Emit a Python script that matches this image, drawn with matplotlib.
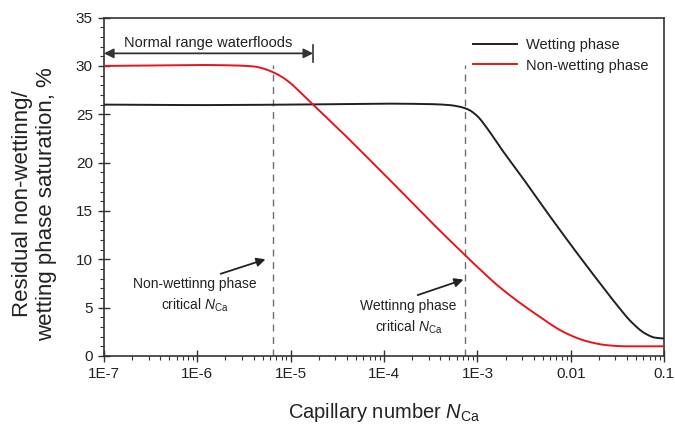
import numpy as np
import matplotlib
matplotlib.use("Agg")
import matplotlib.pyplot as plt
from matplotlib.ticker import LogLocator, NullFormatter, MultipleLocator

plt.rcParams['font.family'] = ['Liberation Sans', 'DejaVu Sans']
plt.rcParams['mathtext.fontset'] = 'custom'
plt.rcParams['mathtext.rm'] = 'Liberation Sans'
plt.rcParams['mathtext.it'] = 'Liberation Sans:italic'

# Data (log10 of capillary number, saturation %)
wet_logx = [-7, -6.5, -6, -5.5, -5, -4.5, -4, -3.5, -3.3, -3.2, -3.1, -3.0, -2.9,
            -2.75, -2.5, -2.25, -2.0, -1.75, -1.5, -1.35, -1.2, -1.1, -1.0]
wet_sat = [26.0, 25.98, 25.95, 25.97, 26.0, 26.05, 26.1, 26.05, 25.95, 25.8, 25.5, 24.8, 23.6,
           21.5, 18.2, 14.8, 11.5, 8.3, 5.2, 3.5, 2.3, 1.9, 1.8]
nw_logx = [-7, -6.5, -6, -5.6, -5.4, -5.3, -5.19, -5.1, -5.0, -4.9, -4.76, -4.5, -4.0,
           -3.5, -3.13, -3.0, -2.76, -2.4, -2.04, -1.82, -1.6, -1.4, -1.25, -1.0]
nw_sat = [30.0, 30.05, 30.1, 30.05, 29.95, 29.75, 29.35, 28.9, 28.2, 27.3, 26.0, 23.6, 18.8,
          13.9, 10.4, 9.2, 7.1, 4.5, 2.3, 1.5, 1.1, 1.0, 1.0, 1.0]

crit_nw = 6.4e-6
crit_w = 7.4e-4
normal_range_end = 1.74e-5
xticks = [1e-7, 1e-6, 1e-5, 1e-4, 1e-3, 1e-2, 1e-1]
xticklabels = ['1E-7', '1E-6', '1E-5', '1E-4', '1E-3', '0.01', '0.1']

fig = plt.figure(figsize=(6.75, 4.25), dpi=100)
ax = fig.add_axes([0.154, 0.1624, 0.83, 0.7962])

def smooth(lx, y, n=400):
    lx = np.asarray(lx, float); y = np.asarray(y, float)
    xs = np.linspace(lx[0], lx[-1], n)
    h = np.diff(lx); d = np.diff(y) / h
    m = np.zeros_like(y)
    m[0] = d[0]; m[-1] = d[-1]
    for i in range(1, len(y) - 1):
        if d[i-1] * d[i] <= 0:
            m[i] = 0
        else:
            w1 = 2*h[i] + h[i-1]; w2 = h[i] + 2*h[i-1]
            m[i] = (w1 + w2) / (w1/d[i-1] + w2/d[i])
    idx = np.clip(np.searchsorted(lx, xs) - 1, 0, len(lx) - 2)
    t = (xs - lx[idx]) / h[idx]
    h00 = 2*t**3 - 3*t**2 + 1; h10 = t**3 - 2*t**2 + t
    h01 = -2*t**3 + 3*t**2; h11 = t**3 - t**2
    ys = h00*y[idx] + h10*h[idx]*m[idx] + h01*y[idx+1] + h11*h[idx]*m[idx+1]
    return 10**xs, ys

wx, wy = smooth(wet_logx, wet_sat)
nx, ny = smooth(nw_logx, nw_sat)

ax.plot(wx, wy, color='#231f20', lw=1.4, label='Wetting phase', zorder=3)
ax.plot(nx, ny, color='#e8141a', lw=1.4, label='Non-wetting phase', zorder=3)

ax.vlines([crit_nw, crit_w], 0, 30.1, colors='#707070', linestyles=(0, (5, 4)), lw=1.0, zorder=2)

ax.set_xscale('log')
ax.set_xlim(1e-7, 1e-1)
ax.set_ylim(0, 35)
ax.set_xticks(xticks)
ax.set_xticklabels(xticklabels)
ax.xaxis.set_minor_locator(LogLocator(base=10, subs=np.arange(2, 10), numticks=20))
ax.xaxis.set_minor_formatter(NullFormatter())
ax.yaxis.set_major_locator(MultipleLocator(5))
ax.yaxis.set_minor_locator(MultipleLocator(1))

for s in ax.spines.values():
    s.set_color('#333333'); s.set_linewidth(1.2)
ax.tick_params(which='major', direction='inout', length=8, width=1.0, color='#333333',
               labelsize=11, labelcolor='#222222', pad=4)
ax.tick_params(which='minor', direction='out', length=3, width=0.8, color='#333333')

ax.set_xlabel(r'Capillary number $\mathit{N}_{\mathrm{Ca}}$', fontsize=14.5, color='#222222', labelpad=14)
ax.set_ylabel('Residual non-wettinng/\nwetting phase saturation, %', fontsize=16,
              color='#222222', linespacing=1.2)
ax.yaxis.set_label_coords(-0.084, 0.45)

# Normal range arrow
ax.annotate('', xy=(1e-7, 31.3), xytext=(normal_range_end, 31.3),
            arrowprops=dict(arrowstyle='<|-|>', color='#333333', lw=1.3,
                            mutation_scale=14, shrinkA=0, shrinkB=0))
ax.plot([normal_range_end, normal_range_end], [30.4, 32.2], color='#333333', lw=1.2)
ax.text(10**(-5.88), 31.65, 'Normal range waterfloods', ha='center', va='bottom',
        fontsize=10.5, color='#222222')

# Critical annotations
ax.annotate('', xy=(10**(-5.27), 10.0), xytext=(10**(-5.75), 8.5),
            arrowprops=dict(arrowstyle='-|>', color='#222222', lw=1.3, mutation_scale=13,
                            shrinkA=0, shrinkB=0))
ax.text(10**(-6.03), 8.15, 'Non-wettinng phase\ncritical $\\mathit{N}_{\\mathrm{Ca}}$',
        ha='center', va='top', fontsize=10, color='#222222', linespacing=1.4)
ax.annotate('', xy=(10**(-3.15), 7.9), xytext=(10**(-3.64), 6.3),
            arrowprops=dict(arrowstyle='-|>', color='#222222', lw=1.3, mutation_scale=13,
                            shrinkA=0, shrinkB=0))
ax.text(10**(-3.74), 5.85, 'Wettinng phase\ncritical $\\mathit{N}_{\\mathrm{Ca}}$',
        ha='center', va='top', fontsize=10, color='#222222', linespacing=1.4)

leg = ax.legend(loc='upper right', bbox_to_anchor=(0.99, 0.97), frameon=False, fontsize=10.5,
                handlelength=3.0, handletextpad=0.6, labelspacing=0.45, borderaxespad=0.3)
for t in leg.get_texts():
    t.set_color('#222222')

fig.savefig('out.png', dpi=100)
